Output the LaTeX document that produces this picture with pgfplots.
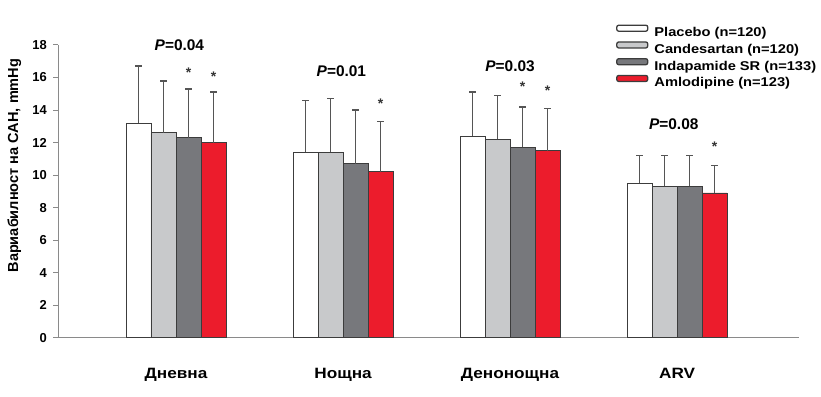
\documentclass[border=0pt]{standalone}
\usepackage{fontspec}
\setmainfont{Liberation Sans}
\newfontfamily\widefont[FakeStretch=1.15]{Liberation Sans}
\usepackage{pgfplots}
\pgfplotsset{compat=1.18}
\definecolor{cgray}{HTML}{C8C9CB}
\definecolor{dgray}{HTML}{77787C}
\definecolor{cred}{HTML}{EC1C2C}
\definecolor{edge}{HTML}{3C3C3C}
\definecolor{axgray}{HTML}{8A8A8A}
\definecolor{errc}{HTML}{555555}
\pgfplotsset{
  mybar/.style={ybar, bar width=25.05bp, bar shift=0pt, draw=edge, line width=0.8bp,
    error bars/y dir=plus, error bars/y explicit, error bars/error mark=|,
    error bars/error bar style={errc, line width=1.1bp, solid},
    error bars/error mark options={errc, line width=1.5bp, mark size=3.2bp, solid}},
  legbox/.style={legend image code/.code={\draw[##1, rounded corners=2bp, line width=1.3bp] (0.5bp,2bp) rectangle (31.5bp,8bp);}},
}
\begin{document}
\begin{tikzpicture}
\begin{axis}[
  name=ax,
  scale only axis, width=740.7bp, height=292.7bp,
  xmin=-0.705, xmax=3.73, ymin=0, ymax=18,
  axis x line=bottom, axis y line=left,
  axis line style={-, axgray, line width=1.2bp},
  ytick={0,2,...,18},
  xtick={0,1,2,3}, xticklabels={Дневна,Нощна,Денонощна,ARV},
  x tick style={draw=none},
  y tick style={axgray, line width=1bp},
  tick align=outside, major tick length=5bp,
  /pgf/number format/assume math mode=true,
  yticklabel style={font=\bfseries\fontsize{13}{13}\selectfont, xshift=-3bp},
  xticklabel style={font=\widefont\bfseries\fontsize{15}{15}\selectfont, yshift=-22bp},
  ylabel={Вариабилност на САН, mmHg},
  ylabel style={at={(axis description cs:-0.0593,0.588)}, anchor=center, font=\bfseries\fontsize{14.6}{14.6}\selectfont},
  clip=false,
  legend cell align=left,
  legend style={at={(axis description cs:0.7528,1.0705)}, anchor=north west, draw=none, fill=none,
    font=\widefont\bfseries\fontsize{12.8}{12.8}\selectfont, row sep=1.6bp, inner sep=0pt,
    nodes={inner sep=0pt, text height=10bp, text depth=3bp},
    /tikz/every odd column/.append style={column sep=6bp}},
]
\addplot[mybar, fill=white, legbox] coordinates {(-0.225,13.2) +- (0,3.5) (0.775,11.4) +- (0,3.2) (1.775,12.4) +- (0,2.7) (2.775,9.5) +- (0,1.7)};
\addlegendentry{Placebo (n=120)}
\addplot[mybar, fill=cgray, legbox] coordinates {(-0.075,12.6) +- (0,3.2) (0.925,11.4) +- (0,3.3) (1.925,12.2) +- (0,2.7) (2.925,9.3) +- (0,1.9)};
\addlegendentry{Candesartan (n=120)}
\addplot[mybar, fill=dgray, legbox] coordinates {(0.075,12.3) +- (0,3.0) (1.075,10.7) +- (0,3.3) (2.075,11.7) +- (0,2.5) (3.075,9.3) +- (0,1.9)};
\addlegendentry{Indapamide SR (n=133)}
\addplot[mybar, fill=cred, legbox] coordinates {(0.225,12.0) +- (0,3.1) (1.225,10.2) +- (0,3.1) (2.225,11.5) +- (0,2.6) (3.225,8.9) +- (0,1.7)};
\addlegendentry{Amlodipine (n=123)}
\addplot[only marks, mark=text, text mark={*}, text mark as node=true,
  text mark style={font=\bfseries\fontsize{14}{14}\selectfont, text=black!80, anchor=center},
  forget plot] coordinates {(0.075,16.3) (0.225,16.05) (1.225,14.4) (2.075,15.44) (2.225,15.17) (3.225,11.75)};
\node[font=\bfseries\fontsize{15.5}{15.5}\selectfont] at (axis cs:0.02,18.0) {\textit{P}=0.04};
\node[font=\bfseries\fontsize{15.5}{15.5}\selectfont] at (axis cs:0.99,16.42) {\textit{P}=0.01};
\node[font=\bfseries\fontsize{15.5}{15.5}\selectfont] at (axis cs:2.0,16.67) {\textit{P}=0.03};
\node[font=\bfseries\fontsize{15.5}{15.5}\selectfont] at (axis cs:2.98,13.14) {\textit{P}=0.08};
\end{axis}
\pgfresetboundingbox
\path (ax.south west) ++(-58.3bp,-59.3bp) rectangle ++(821bp,397bp);
\end{tikzpicture}
\end{document}
